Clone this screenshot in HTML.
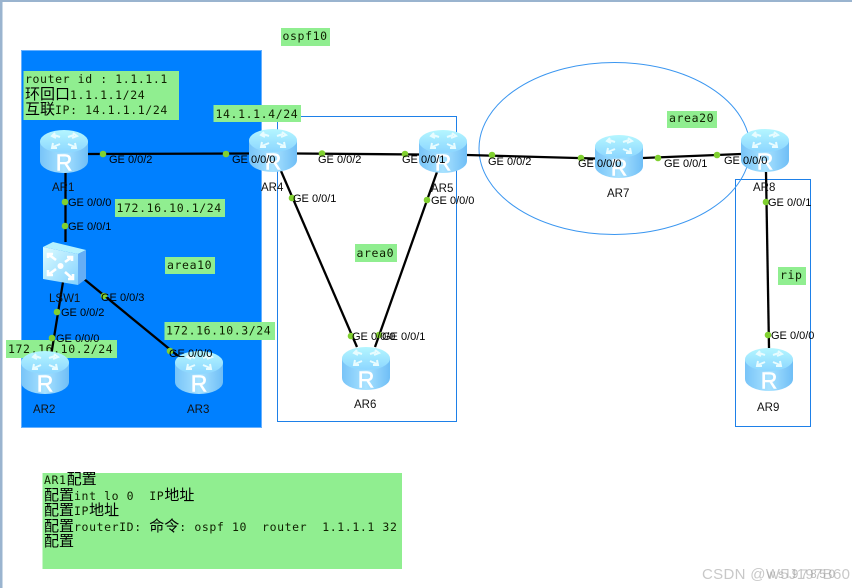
<!DOCTYPE html>
<html>
<head>
<meta charset="utf-8">
<style>
html,body{margin:0;padding:0;background:#fff;}
svg{display:block;}
text{white-space:pre;}
.p{font-family:"Liberation Sans",sans-serif;font-size:11px;fill:#000;}
.n{font-family:"Liberation Sans",sans-serif;font-size:11.5px;fill:#111;}
.m{font-family:"DejaVu Sans Mono","Noto Sans CJK SC",monospace;font-size:11.5px;letter-spacing:.6px;fill:#102000;}
.c{font-family:"Noto Sans CJK SC",sans-serif;font-size:15px;letter-spacing:0;fill:#000;}
.g{fill:#90ee90;}
.l{stroke:#000;stroke-width:2.3;fill:none;}
.d{fill:#80d030;}
.b{fill:none;stroke:#1e80e8;stroke-width:1;}
</style>
</head>
<body>
<svg width="852" height="588" viewBox="0 0 852 588" xmlns="http://www.w3.org/2000/svg">
<defs>
<linearGradient id="rb" x1="0" y1="0" x2="1" y2="0">
<stop offset="0" stop-color="#78c4f8"/><stop offset=".5" stop-color="#a8e2ff"/><stop offset="1" stop-color="#6fbef6"/>
</linearGradient>
<linearGradient id="rt" x1="0" y1="0" x2="0" y2="1">
<stop offset="0" stop-color="#b4f6ff"/><stop offset="1" stop-color="#8cd6ff"/>
</linearGradient>
<linearGradient id="sf" x1="0" y1="0" x2="1" y2="1">
<stop offset="0" stop-color="#dcfcff"/><stop offset="1" stop-color="#84d2ff"/>
</linearGradient>
<symbol id="router" width="48" height="43" viewBox="0 0 48 43" overflow="visible">
<path d="M0,11.5 V31 A24,12 0 0 0 48,31 V11.5 Z" fill="url(#rb)"/>
<ellipse cx="24" cy="11.5" rx="24" ry="11.5" fill="url(#rt)"/>
<g stroke="#e8fcff" stroke-width="2" fill="none">
<path d="M20,7 L14,5 M15,3 L12,6 L16,8"/>
<path d="M28,7 L34,5 M33,3 L37,6 L32,8"/>
<path d="M20,14 L13,17 M13,13 L12,18 L17,18"/>
<path d="M28,14 L35,17 M35,13 L36,18 L31,18"/>
</g>
<text x="24" y="40.5" text-anchor="middle" font-family="Liberation Sans, sans-serif" font-size="23" fill="#fff" stroke="#fff" stroke-width=".5">R</text>
</symbol>
</defs>

<!-- window edge -->
<rect x="0" y="0" width="852" height="2" fill="#9ab4cf"/>
<rect x="0" y="0" width="2.5" height="588" fill="#9ab4cf"/>

<!-- areas -->
<rect x="21.5" y="50.5" width="240" height="377" fill="#0080ff" stroke="#66b0ff" stroke-width="1"/>
<rect class="b" x="277.5" y="116.5" width="179" height="305"/>
<rect class="b" x="735.5" y="179.5" width="75" height="247"/>
<ellipse cx="614.5" cy="148.5" rx="135.5" ry="86" fill="none" stroke="#3a96f0" stroke-width="1"/>

<!-- green labels -->
<rect class="g" x="281" y="28" width="49" height="18"/>
<rect class="g" x="23.5" y="71" width="155.5" height="49"/>
<rect class="g" x="213.5" y="105" width="87.5" height="17"/>
<rect class="g" x="115" y="199" width="110" height="18"/>
<rect class="g" x="165" y="257" width="50" height="17"/>
<rect class="g" x="164.5" y="322" width="110.5" height="18"/>
<rect class="g" x="6" y="340" width="111" height="18"/>
<rect class="g" x="355" y="244" width="42" height="18"/>
<rect class="g" x="667" y="111" width="50" height="17"/>
<rect class="g" x="778" y="267" width="28" height="18"/>
<rect class="g" x="42.5" y="473" width="359.5" height="96"/>

<text class="m" x="282.5" y="40">ospf10</text>
<text class="m" x="25" y="83">router id : 1.1.1.1</text>
<text class="m" x="25" y="99"><tspan class="c">环回口</tspan>1.1.1.1/24</text>
<text class="m" x="25" y="114"><tspan class="c">互联</tspan>IP: 14.1.1.1/24</text>
<text class="m" x="215.5" y="118">14.1.1.4/24</text>
<text class="m" x="116.5" y="212">172.16.10.1/24</text>
<text class="m" x="167" y="269">area10</text>
<text class="m" x="166" y="334.5">172.16.10.3/24</text>
<text class="m" x="8" y="353">172.16.10.2/24</text>
<text class="m" x="356.5" y="257">area0</text>
<text class="m" x="669" y="122">area20</text>
<text class="m" x="780" y="279">rip</text>

<text class="m" x="44" y="484">AR1<tspan class="c">配置</tspan></text>
<text class="m" x="44" y="500"><tspan class="c">配置</tspan>int lo 0  IP<tspan class="c">地址</tspan></text>
<text class="m" x="44" y="515"><tspan class="c">配置</tspan>IP<tspan class="c">地址</tspan></text>
<text class="m" x="44" y="531"><tspan class="c">配置</tspan>routerID: <tspan class="c">命令</tspan>: ospf 10  router  1.1.1.1 32</text>
<text class="m" x="44" y="546"><tspan class="c">配置</tspan></text>

<!-- links -->
<path class="l" d="M88,154 L249,153.5"/>
<path class="l" d="M65.5,173 L65.5,242"/>
<path class="l" d="M63,282 L51,356"/>
<path class="l" d="M84,279 L178,356"/>
<path class="l" d="M297,153.5 L419,154.5"/>
<path class="l" d="M281,171 L357,347"/>
<path class="l" d="M437,172 L375,347"/>
<path class="l" d="M467,155 L595,158.5"/>
<path class="l" d="M643,158 L741,154"/>
<path class="l" d="M766,172 L769,348"/>

<!-- devices -->
<use href="#router" x="40" y="130"/>
<use href="#router" x="249" y="129"/>
<use href="#router" x="419" y="130"/>
<use href="#router" x="342" y="347"/>
<use href="#router" x="595" y="135"/>
<use href="#router" x="741" y="129"/>
<use href="#router" x="745" y="348"/>
<use href="#router" x="21" y="351"/>
<use href="#router" x="175" y="351"/>

<g transform="translate(43,242)">
<polygon points="0,5 10,0 43,8 35,12" fill="#b4f2ff"/>
<polygon points="35,12 43,8 43,37 35,43" fill="#66aef5"/>
<polygon points="0,5 35,12 35,43 0,37" fill="url(#sf)"/>
<g stroke="#fff" stroke-width="2.6" fill="none">
<path d="M5,12 L13,18 M5,16 L5,12 L10,12"/>
<path d="M29,15 L22,20 M29,19 L29,15 L24,15"/>
<path d="M5,33 L13,27 M5,28 L5,33 L10,33"/>
<path d="M30,37 L22,30 M30,32 L30,37 L25,37"/>
</g>
<circle cx="17.5" cy="24" r="3" fill="#fff"/>
</g>

<!-- port dots -->
<g class="d">
<circle cx="103" cy="154" r="3.3"/><circle cx="226" cy="154" r="3.3"/>
<circle cx="65" cy="202" r="3.3"/><circle cx="65" cy="226" r="3.3"/>
<circle cx="57" cy="312" r="3.3"/><circle cx="52" cy="338" r="3.3"/>
<circle cx="104" cy="296" r="3.3"/><circle cx="170" cy="351" r="3.3"/>
<circle cx="322" cy="153.5" r="3.3"/><circle cx="405" cy="154" r="3.3"/>
<circle cx="292" cy="198" r="3.3"/><circle cx="427" cy="200" r="3.3"/>
<circle cx="351" cy="336" r="3.3"/><circle cx="379" cy="335" r="3.3"/>
<circle cx="492" cy="155" r="3.3"/><circle cx="581" cy="158" r="3.3"/>
<circle cx="658" cy="158" r="3.3"/><circle cx="717" cy="155" r="3.3"/>
<circle cx="766" cy="202" r="3.3"/><circle cx="768" cy="335" r="3.3"/>
</g>

<!-- port labels -->
<text class="p" x="109" y="163">GE 0/0/2</text>
<text class="p" x="232" y="163">GE 0/0/0</text>
<text class="p" x="68" y="206">GE 0/0/0</text>
<text class="p" x="68" y="230">GE 0/0/1</text>
<text class="p" x="61" y="316">GE 0/0/2</text>
<text class="p" x="56" y="342">GE 0/0/0</text>
<text class="p" x="101" y="301">GE 0/0/3</text>
<text class="p" x="169" y="357">GE 0/0/0</text>
<text class="p" x="318" y="163">GE 0/0/2</text>
<text class="p" x="402" y="163">GE 0/0/1</text>
<text class="p" x="293" y="202">GE 0/0/1</text>
<text class="p" x="431" y="204">GE 0/0/0</text>
<text class="p" x="352" y="340">GE 0/0/0</text>
<text class="p" x="382" y="340">GE 0/0/1</text>
<text class="p" x="488" y="165">GE 0/0/2</text>
<text class="p" x="578" y="167">GE 0/0/0</text>
<text class="p" x="664" y="167">GE 0/0/1</text>
<text class="p" x="724" y="164">GE 0/0/0</text>
<text class="p" x="768" y="206">GE 0/0/1</text>
<text class="p" x="771" y="339">GE 0/0/0</text>

<!-- node labels -->
<text class="n" x="52" y="191">AR1</text>
<text class="n" x="261" y="191">AR4</text>
<text class="n" x="431" y="192">AR5</text>
<text class="n" x="49" y="302">LSW1</text>
<text class="n" x="33" y="413">AR2</text>
<text class="n" x="187" y="413">AR3</text>
<text class="n" x="354" y="408">AR6</text>
<text class="n" x="607" y="197">AR7</text>
<text class="n" x="753" y="191">AR8</text>
<text class="n" x="757" y="411">AR9</text>

<!-- watermark -->
<text x="702" y="579" font-family="Liberation Sans, sans-serif" font-size="15" textLength="148" lengthAdjust="spacing" fill="#c8c8c8">CSDN @W5J197B60</text>
<text x="767" y="578" font-family="Liberation Sans, sans-serif" font-size="11.5" textLength="68" fill="#a0a0a0" opacity=".7">wsl97850</text>
</svg>
</body>
</html>
